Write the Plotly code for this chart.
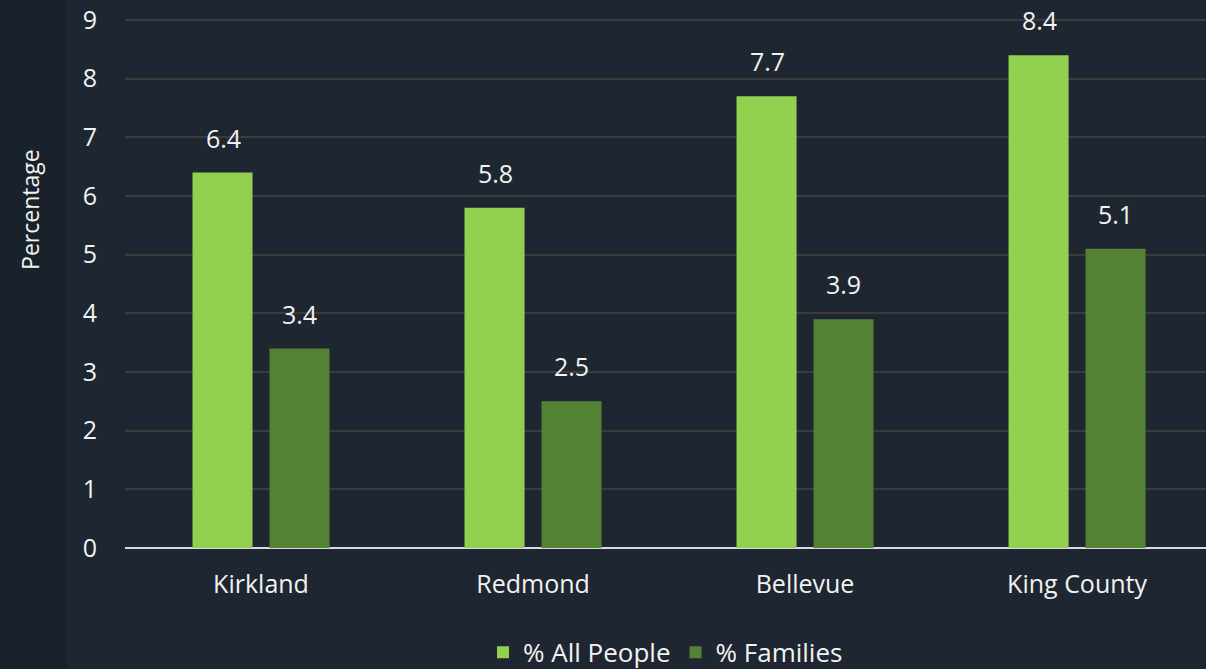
import plotly.graph_objects as go

# data
places = ["Kirkland", "Redmond", "Bellevue", "King County"]
all_people = [6.4, 5.8, 7.7, 8.4]
families = [3.4, 2.5, 3.9, 5.1]
y_ticks = [0, 1, 2, 3, 4, 5, 6, 7, 8, 9]

bg = "#1e2631"
txt = "#f2f2f2"
fnt = "Open Sans"

fig = go.Figure()
fig.add_trace(go.Bar(x=places, y=all_people, name="% All People",
                     marker_color="#92d050", marker_line_width=0))
fig.add_trace(go.Bar(x=places, y=families, name="% Families",
                     marker_color="#548235", marker_line_width=0))

# value labels sitting above each bar
for i, p in enumerate(places):
    fig.add_annotation(x=p, y=all_people[i], text=str(all_people[i]), xshift=-38,
                       yshift=35, showarrow=False, font=dict(size=25, color=txt, family=fnt))
    fig.add_annotation(x=p, y=families[i], text=str(families[i]), xshift=38,
                       yshift=35, showarrow=False, font=dict(size=25, color=txt, family=fnt))

# darker strip on the far left
fig.add_shape(type="rect", xref="paper", yref="paper",
              x0=-0.12, x1=-0.0537, y0=-0.3, y1=1.1,
              fillcolor="#19222b", line_width=0, layer="below")

fig.add_annotation(text="Percentage", xref="paper", yref="paper",
                   x=-0.088, y=0.63, xanchor="center", yanchor="middle",
                   textangle=-90, showarrow=False,
                   font=dict(size=23, color=txt, family=fnt))

fig.update_layout(
    width=1206, height=669,
    margin=dict(l=125, r=0, t=10, b=121),
    paper_bgcolor=bg, plot_bgcolor=bg,
    barmode="group", bargap=0.434, bargroupgap=0.22,
    font=dict(family=fnt, color=txt, size=25),
    showlegend=True,
    legend=dict(orientation="h", x=0.5, xanchor="center",
                yref="container", y=0.025, yanchor="middle",
                font=dict(size=26, color=txt), itemwidth=30),
    xaxis=dict(range=[-0.5, 3.474], showgrid=False, showline=False, zeroline=False,
               ticks="", ticklabelstandoff=19, tickfont=dict(size=25)),
    yaxis=dict(range=[0, 9.17], tickvals=y_ticks, showgrid=True, gridcolor="#3e3a39",
               gridwidth=2, zeroline=True, zerolinecolor="#d9d9d9", zerolinewidth=2,
               showline=False, ticks="", ticklabelstandoff=27, tickfont=dict(size=25)),
)

fig.write_html("out.html", config={"displayModeBar": False},
               post_script="document.body.style.margin='0';")
